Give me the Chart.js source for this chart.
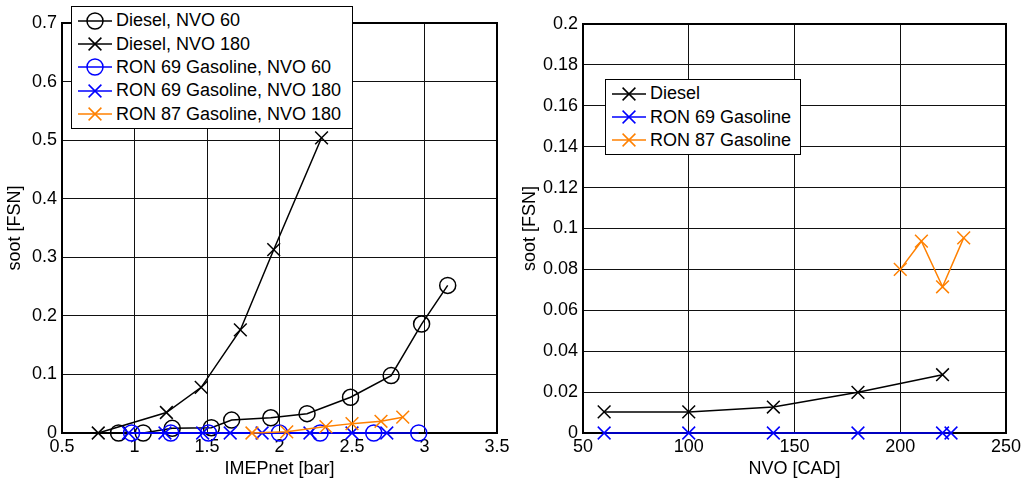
<!DOCTYPE html>
<html>
<head>
<meta charset="utf-8">
<script src="https://cdn.jsdelivr.net/npm/chart.js@4/dist/chart.umd.min.js"></script>
<style>
  body { margin: 0; background: #fff; }
  #wrap { position: relative; width: 1030px; height: 483px; }
  canvas { position: absolute; top: 0; }
  .legend { position: absolute; background: #fff; border: 1.5px solid #000; font: 18px "Liberation Sans", Arial, sans-serif; color: #000; box-sizing: border-box; padding-top: 2px; }
  .legend .row { height: 23.4px; display: flex; align-items: center; white-space: nowrap; }
  .legend svg { margin-left: 6px; margin-right: 4px; flex: none; }
</style>
</head>
<body>
<div id="wrap">
  <canvas id="left" width="515" height="483" style="left:0"></canvas>
  <canvas id="right" width="515" height="483" style="left:515px"></canvas>
  <div class="legend" id="legLeft" style="left:71px;top:6px;width:282px;height:123px"></div>
  <div class="legend" id="legRight" style="left:605px;top:79px;width:196px;height:76px"></div>
</div>
<script>
// left panel: soot vs IMEPnet
const imepDieselNvo60 = [0.89, 1.06, 1.26, 1.53, 1.67, 1.94, 2.19, 2.49, 2.77, 2.98, 3.16];
const sootDieselNvo60 = [0, 0, 0.008, 0.009, 0.022, 0.026, 0.033, 0.061, 0.098, 0.186, 0.252];
const imepDieselNvo180 = [0.75, 1.22, 1.46, 1.73, 1.96, 2.29];
const sootDieselNvo180 = [0, 0.035, 0.078, 0.176, 0.313, 0.504];
const imepRon69Nvo60 = [0.98, 1.25, 1.51, 2.0, 2.28, 2.65, 2.96];
const sootRon69Nvo60 = [0, 0, 0, 0, 0, 0, 0];
const imepRon69Nvo180 = [0.96, 1.21, 1.47, 1.66, 1.88, 2.21, 2.5, 2.74];
const sootRon69Nvo180 = [0, 0, 0, 0, 0, 0, 0, 0];
const imepRon87Nvo180 = [1.81, 2.05, 2.32, 2.5, 2.7, 2.85];
const sootRon87Nvo180 = [0, 0.002, 0.011, 0.016, 0.02, 0.027];

// right panel: soot vs NVO
const nvoDiesel = [60, 100, 140, 180, 220];
const sootDiesel = [0.0103, 0.0103, 0.0127, 0.0199, 0.0285];
const nvoRon69 = [60, 100, 140, 180, 220, 224];
const sootRon69 = [0, 0, 0, 0, 0, 0];
const nvoRon87 = [200, 210, 220, 230];
const sootRon87 = [0.080, 0.0938, 0.0715, 0.0954];

const BLACK = '#000000', BLUE = '#0000ff', ORANGE = '#ff8000';
const FONT = { family: '"Liberation Sans", Arial, sans-serif', size: 18 };

function pts(xs, ys) { return xs.map((x, i) => ({ x: x, y: ys[i] })); }

function series(label, xs, ys, color, marker) {
  return {
    label: label,
    data: pts(xs, ys),
    showLine: true,
    borderColor: color,
    borderWidth: 1.5,
    tension: 0,
    pointStyle: marker,
    pointRadius: marker === 'circle' ? 8 : 9,
    pointBorderColor: color,
    pointBackgroundColor: 'rgba(0,0,0,0)',
    pointBorderWidth: 1.5,
    clip: false
  };
}

// axes box, drawn under the data so lines at y=0 stay visible
const boxPlugin = {
  id: 'box',
  beforeDatasetsDraw(chart) {
    const a = chart.chartArea, ctx = chart.ctx;
    ctx.save();
    ctx.strokeStyle = '#000';
    ctx.lineWidth = 2;
    ctx.strokeRect(a.left, a.top, a.right - a.left, a.bottom - a.top);
    ctx.restore();
  }
};

function fmt(v) { return String(parseFloat(v.toFixed(3))); }

function makeChart(id, datasets, xr, yr, yWidth, pad) {
  datasets.forEach((d, i) => { d.order = datasets.length - i; });
  return new Chart(document.getElementById(id), {
    type: 'scatter',
    data: { datasets: datasets },
    options: {
      responsive: false,
      animation: false,
      layout: { padding: pad },
      plugins: { legend: { display: false }, tooltip: { enabled: false } },
      scales: {
        x: {
          type: 'linear', min: xr[0], max: xr[1],
          ticks: { stepSize: xr[2], callback: fmt, color: '#000', font: FONT, padding: 3, autoSkip: false, maxRotation: 0 },
          grid: { color: '#111', lineWidth: 1, drawTicks: false },
          border: { display: false },
          title: { display: true, text: xr[3], color: '#000', font: FONT, padding: { top: 0, bottom: 3 } },
          afterFit(s) { s.height = 50; }
        },
        y: {
          type: 'linear', min: yr[0], max: yr[1],
          ticks: { stepSize: yr[2], callback: fmt, color: '#000', font: FONT, padding: 5, autoSkip: false },
          grid: { color: '#111', lineWidth: 1, drawTicks: false },
          border: { display: false },
          title: { display: true, text: yr[3], color: '#000', font: FONT, padding: { top: 4, bottom: 0 } },
          afterFit(s) { s.width = yWidth; }
        }
      }
    },
    plugins: [boxPlugin]
  });
}

function buildLegend(el, datasets) {
  datasets.forEach(d => {
    const c = d.borderColor;
    let mk;
    if (d.pointStyle === 'circle') {
      mk = '<circle cx="17" cy="11" r="8" fill="none" stroke="' + c + '" stroke-width="1.5"/>';
    } else {
      mk = '<line x1="10.6" y1="4.6" x2="23.4" y2="17.4" stroke="' + c + '" stroke-width="1.5"/>' +
           '<line x1="10.6" y1="17.4" x2="23.4" y2="4.6" stroke="' + c + '" stroke-width="1.5"/>';
    }
    const row = document.createElement('div');
    row.className = 'row';
    row.innerHTML = '<svg width="34" height="22"><line x1="0" y1="11" x2="34" y2="11" stroke="' + c +
      '" stroke-width="1.5"/>' + mk + '</svg><span>' + d.label + '</span>';
    el.appendChild(row);
  });
}

const leftSets = [
  series('Diesel, NVO 60', imepDieselNvo60, sootDieselNvo60, BLACK, 'circle'),
  series('Diesel, NVO 180', imepDieselNvo180, sootDieselNvo180, BLACK, 'crossRot'),
  series('RON 69 Gasoline, NVO 60', imepRon69Nvo60, sootRon69Nvo60, BLUE, 'circle'),
  series('RON 69 Gasoline, NVO 180', imepRon69Nvo180, sootRon69Nvo180, BLUE, 'crossRot'),
  series('RON 87 Gasoline, NVO 180', imepRon87Nvo180, sootRon87Nvo180, ORANGE, 'crossRot')
];
const rightSets = [
  series('Diesel', nvoDiesel, sootDiesel, BLACK, 'crossRot'),
  series('RON 69 Gasoline', nvoRon69, sootRon69, BLUE, 'crossRot'),
  series('RON 87 Gasoline', nvoRon87, sootRon87, ORANGE, 'crossRot')
];

buildLegend(document.getElementById('legLeft'), leftSets);
buildLegend(document.getElementById('legRight'), rightSets);

makeChart('left', leftSets, [0.5, 3.5, 0.5, 'IMEPnet [bar]'], [0, 0.7, 0.1, 'soot [FSN]'], 62,
  { left: 0, top: 23, right: 18, bottom: 0 });
makeChart('right', rightSets, [50, 250, 50, 'NVO [CAD]'], [0, 0.2, 0.02, 'soot [FSN]'], 68,
  { left: 0, top: 24, right: 24, bottom: 0 });
</script>
</body>
</html>
